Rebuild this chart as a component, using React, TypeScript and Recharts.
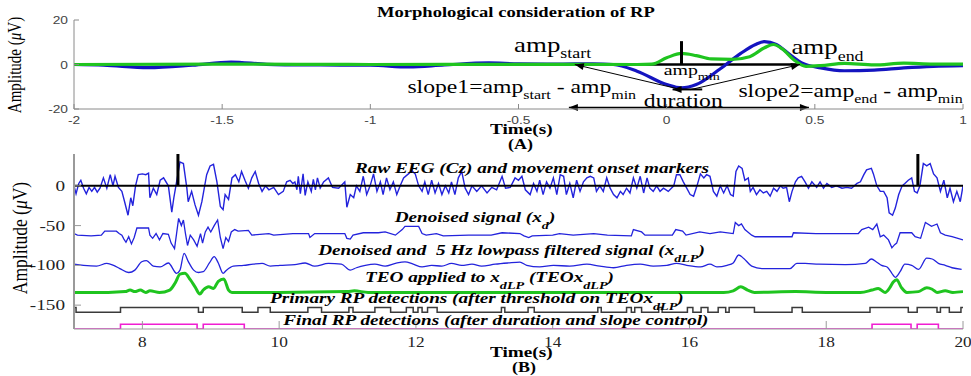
import React from "react";
import { LineChart, Line, XAxis, YAxis, ReferenceLine, ReferenceDot } from "recharts";

type Pt = [number, number];
type Part = [string, boolean]; // [text, subscript?]

// ---------- (A) morphological consideration of RP ----------
const rpTicksX = [-2, -1.5, -1, -0.5, 0, 0.5, 1];
const rpTicksY = [-20, 0, 20];
const rpOnset = 0.05;
const rpBlue: Pt[] = [
  [-2, 0], [-1.9, -0.3], [-1.75, -1.4], [-1.6, -0.3], [-1.47, 1.1], [-1.35, 0.1],
  [-1.2, -0.2], [-1.0, -0.3], [-0.87, -1.1], [-0.75, -0.2], [-0.6, 0.7], [-0.5, 0.3],
  [-0.35, 0.2], [-0.25, 0.3], [-0.18, 0], [-0.1, -3], [0, -9], [0.05, -10.5],
  [0.1, -9], [0.18, -2], [0.25, 5], [0.3, 9], [0.33, 10.3], [0.37, 9], [0.42, 4],
  [0.46, 0.5], [0.52, -1.5], [0.6, -2.8], [0.7, -2.5], [0.8, -1.5], [0.9, -0.8], [1.0, -0.5],
];
const rpGreen: Pt[] = [
  [-2, 0], [-1.5, 0.2], [-1, 0], [-0.5, 0.1], [-0.1, 0], [-0.05, 0.2], [0, 3],
  [0.05, 5], [0.1, 4], [0.15, 2.5], [0.22, 2.3], [0.28, 3.5], [0.33, 7.5], [0.36, 9],
  [0.39, 7], [0.43, 2], [0.47, -0.8], [0.52, -0.5], [0.6, 0.5], [0.7, -0.2],
  [0.8, 0.6], [0.9, 0.2], [1.0, 0.2],
];

// ---------- (B) detection pipeline ----------
const eegTicksX = [8, 10, 12, 14, 16, 18, 20];
const eegTicksY = [-150, -100, -50, 0];
const onsetMarkers = [8.52, 19.34];
const rawEeg: Pt[] = [
  [7.0, 0], [7.03, -10], [7.07, 3], [7.1, 7], [7.14, -3], [7.18, -10], [7.22, -2], [7.26, -7],
  [7.3, -2], [7.34, -8], [7.38, -3], [7.43, 10], [7.48, -3], [7.53, 14], [7.57, 0], [7.6, 12],
  [7.65, -2], [7.7, -7], [7.74, -20], [7.79, -37], [7.83, -15], [7.86, -25], [7.9, 0], [7.94, 14],
  [8.0, 15], [8.05, 14], [8.09, 16], [8.11, -15], [8.16, -3], [8.21, -11], [8.26, 7], [8.31, 10],
  [8.38, 0], [8.43, -33], [8.46, -15], [8.5, 5], [8.55, 30], [8.6, 28], [8.65, -3], [8.67, -20],
  [8.72, -7], [8.77, -24], [8.82, -37], [8.87, -20], [8.94, 14], [8.99, 25], [9.04, 27], [9.09, 5],
  [9.14, -26], [9.18, -30], [9.21, -11], [9.26, -17], [9.31, 10], [9.36, 14], [9.41, 5], [9.45, 18],
  [9.5, 7], [9.55, -3], [9.6, 10], [9.65, 18], [9.7, 3], [9.75, -7], [9.8, 0], [9.85, -5],
  [9.92, -2], [9.99, -11], [10.06, -7], [10.11, 5], [10.16, 7], [10.2, 3], [10.23, 5], [10.26, -5],
  [10.28, 12], [10.31, -10], [10.35, 15], [10.38, -12], [10.42, 5], [10.47, -7], [10.5, 8], [10.53, -5],
  [10.56, 10], [10.6, -3], [10.65, 5], [10.72, 10], [10.78, -2], [10.87, -3], [10.96, 5], [10.99, -27],
  [11.04, -11], [11.09, -15], [11.13, 0], [11.18, -7], [11.23, 12], [11.28, -11], [11.33, 0], [11.38, 15],
  [11.43, -7], [11.48, 5], [11.52, -11], [11.57, 10], [11.62, -5], [11.67, 5], [11.72, -11], [11.77, 0],
  [11.82, 10], [11.89, 15], [11.94, 19], [11.99, 15], [12.04, 0], [12.09, -7], [12.13, 5], [12.18, -11],
  [12.23, 7], [12.28, -9], [12.33, 3], [12.38, -11], [12.43, 0], [12.48, -9], [12.52, 5], [12.57, -11],
  [12.62, 10], [12.67, 18], [12.72, -3], [12.77, -11], [12.82, 0], [12.89, -7], [12.96, 0], [13.04, -9],
  [13.11, -2], [13.18, -5], [13.26, 12], [13.31, -3], [13.38, -2], [13.45, 10], [13.5, 7], [13.55, 12],
  [13.6, -5], [13.67, -11], [13.72, 3], [13.77, -7], [13.81, 7], [13.86, -11], [13.91, 5], [13.96, -3],
  [14.01, 10], [14.06, -11], [14.11, 14], [14.16, 12], [14.2, -11], [14.25, 3], [14.3, -15], [14.35, 7],
  [14.4, -7], [14.45, 5], [14.5, 10], [14.55, 12], [14.6, 10], [14.64, -7], [14.69, 0], [14.74, -7],
  [14.79, 10], [14.84, -3], [14.89, -11], [14.94, -15], [14.99, -7], [15.03, -11], [15.08, -3], [15.13, -9],
  [15.18, 10], [15.23, -3], [15.28, 12], [15.33, -9], [15.38, 10], [15.42, -3], [15.47, -7], [15.52, 0],
  [15.57, -7], [15.62, -3], [15.69, -7], [15.77, 0], [15.81, 14], [15.86, 14], [15.91, 5], [15.96, -3],
  [16.01, -11], [16.06, -13], [16.11, 0], [16.16, 15], [16.21, 10], [16.25, 14], [16.3, 12], [16.35, -7],
  [16.4, -13], [16.45, 0], [16.5, -9], [16.55, 0], [16.6, -11], [16.64, -13], [16.68, 18], [16.72, 25],
  [16.77, 22], [16.81, 7], [16.86, 10], [16.89, -7], [16.93, -2], [16.98, -11], [17.03, -5], [17.08, -9],
  [17.13, -7], [17.18, -13], [17.23, -3], [17.28, -7], [17.33, 0], [17.37, -3], [17.42, -2], [17.46, -20],
  [17.5, -7], [17.55, 5], [17.59, 10], [17.64, 12], [17.69, 5], [17.74, -3], [17.79, 5], [17.86, -2],
  [17.91, 5], [17.96, -3], [18.01, 3], [18.08, -2], [18.15, 0], [18.23, -3], [18.3, -2], [18.37, -3],
  [18.45, 3], [18.5, 5], [18.55, 14], [18.59, 20], [18.66, 22], [18.69, 15], [18.74, 0], [18.79, -7],
  [18.84, -7], [18.89, -15], [18.92, -34], [18.97, -37], [19.01, -28], [19.06, -11], [19.11, 0], [19.15, 3],
  [19.2, 7], [19.25, 10], [19.29, -7], [19.33, -9], [19.37, 0], [19.42, 28], [19.47, 25], [19.52, 28],
  [19.57, 15], [19.62, 10], [19.67, -7], [19.72, 7], [19.77, -15], [19.81, -3], [19.86, -20], [19.91, -7],
  [19.96, -20], [20.0, 0],
];
const denoised: Pt[] = [
  [7.0, -60], [7.05, -62], [7.25, -63], [7.4, -62], [7.45, -57], [7.62, -57], [7.66, -60], [7.7, -62],
  [7.73, -67], [7.76, -71], [7.8, -64], [7.84, -73], [7.88, -65], [7.92, -53], [8.09, -53], [8.11, -62],
  [8.15, -66], [8.2, -60], [8.25, -68], [8.3, -60], [8.38, -61], [8.42, -72], [8.47, -79], [8.5, -60],
  [8.53, -41], [8.57, -50], [8.6, -43], [8.63, -60], [8.66, -75], [8.7, -62], [8.75, -68], [8.8, -76],
  [8.85, -60], [8.88, -72], [8.92, -58], [8.96, -52], [9.0, -58], [9.05, -50], [9.1, -43], [9.14, -65],
  [9.18, -79], [9.22, -65], [9.26, -70], [9.3, -58], [9.35, -55], [9.4, -57], [9.55, -56], [9.6, -62],
  [9.85, -60], [9.92, -62], [10.2, -60], [10.43, -60], [10.45, -65], [10.52, -60], [10.96, -60], [10.99, -66],
  [11.04, -67], [11.08, -62], [11.23, -59], [11.45, -59], [11.55, -58], [11.7, -62], [11.8, -55], [11.84, -51],
  [12.04, -51], [12.09, -60], [12.15, -62], [12.3, -60], [12.4, -63], [12.77, -62], [13.1, -62], [13.26, -59],
  [13.52, -60], [13.58, -63], [13.65, -65], [13.7, -63], [14.0, -62], [14.1, -60], [14.3, -62], [14.6, -60],
  [14.8, -62], [15.15, -63], [15.18, -55], [15.3, -58], [15.35, -62], [15.75, -62], [15.8, -55], [15.9, -57],
  [15.95, -62], [16.15, -58], [16.3, -60], [16.45, -58], [16.64, -60], [16.67, -46], [16.72, -50], [16.76, -48],
  [16.81, -55], [16.91, -62], [16.96, -64], [17.5, -64], [17.52, -59], [17.85, -60], [18.47, -60], [18.52, -55],
  [18.62, -52], [18.68, -55], [18.74, -48], [18.79, -64], [18.84, -62], [18.91, -68], [18.96, -78], [19.0, -74],
  [19.03, -72], [19.08, -59], [19.25, -59], [19.3, -64], [19.38, -66], [19.45, -46], [19.54, -51], [19.62, -48],
  [19.67, -59], [19.74, -62], [19.84, -64], [20.0, -68],
];
const lowpass: Pt[] = [
  [7.0, -98.5], [7.14, -100], [7.33, -101], [7.48, -97.5], [7.58, -100], [7.67, -104], [7.8, -109], [7.89, -106],
  [7.99, -95.5], [8.06, -94], [8.16, -101], [8.26, -102], [8.38, -97], [8.5, -110], [8.55, -106], [8.61, -85],
  [8.67, -95], [8.75, -106], [8.82, -109], [8.89, -108], [8.98, -97], [9.05, -89], [9.11, -97], [9.18, -110],
  [9.23, -106], [9.33, -101], [9.48, -100], [9.62, -98.5], [9.75, -97.5], [9.87, -101], [10.01, -100], [10.23, -99],
  [10.38, -97], [10.52, -101], [10.72, -97.5], [10.91, -98.5], [11.04, -106], [11.13, -103], [11.26, -100], [11.4, -98.5],
  [11.55, -101], [11.7, -97.5], [11.84, -95.5], [11.96, -98.5], [12.09, -102], [12.23, -100], [12.38, -101], [12.52, -97.5],
  [12.67, -100], [12.82, -98.5], [12.96, -101], [13.16, -98.5], [13.35, -97], [13.52, -96], [13.62, -100], [13.81, -102],
  [14.01, -100], [14.25, -101], [14.5, -98.5], [14.69, -101], [14.89, -103], [15.08, -100], [15.28, -98.5], [15.47, -101],
  [15.67, -100], [15.81, -97.5], [15.96, -100], [16.16, -102], [16.3, -98.5], [16.4, -102], [16.55, -100], [16.64, -97],
  [16.72, -87], [16.79, -91], [16.91, -101], [17.06, -104], [17.3, -104], [17.47, -104], [17.57, -97.5], [17.69, -97.5],
  [17.89, -98.5], [18.28, -99], [18.57, -97.5], [18.66, -92], [18.74, -96], [18.81, -100], [18.89, -102], [18.96, -110],
  [19.01, -115], [19.08, -108], [19.15, -98.5], [19.25, -100], [19.35, -105], [19.47, -91], [19.55, -92], [19.64, -97.5],
  [19.74, -100], [19.84, -103], [19.98, -105],
];
const teo: Pt[] = [
  [7.0, -134], [7.5, -134], [7.75, -133], [7.82, -131], [7.89, -133], [7.97, -131], [8.05, -134], [8.11, -132],
  [8.25, -134], [8.4, -131], [8.48, -122], [8.55, -111], [8.62, -110], [8.7, -118], [8.77, -127], [8.84, -136],
  [8.89, -131], [8.97, -127], [9.04, -129], [9.11, -120], [9.19, -117], [9.26, -131], [9.31, -134], [10.0, -134],
  [11.0, -133], [11.1, -132], [11.3, -134], [13.0, -134], [15.0, -134], [16.5, -134], [16.64, -132], [16.75, -127],
  [16.85, -131], [16.95, -134], [17.55, -133], [18.0, -134], [18.5, -134], [18.67, -131], [18.76, -129], [18.86, -134],
  [18.93, -128], [18.98, -121], [19.03, -118], [19.1, -128], [19.18, -134], [19.35, -133], [19.47, -128], [19.55, -130],
  [19.62, -134], [19.74, -132], [19.85, -134], [20.0, -133],
];
// detection runs: [start, end] in s
const primaryRuns: Pt[] = [
  [7.0, 7.03], [7.68, 8.82], [8.89, 9.46], [9.69, 9.87], [10.42, 10.62], [11.02, 11.08], [11.4, 11.63],
  [11.86, 11.96], [12.03, 12.09], [12.17, 12.31], [13.25, 13.3], [13.64, 13.73], [14.66, 14.71], [15.08, 15.15],
  [15.2, 15.3], [15.55, 15.6], [15.97, 16.05], [16.17, 16.27], [16.42, 16.53], [16.58, 16.95], [17.5, 17.65],
  [18.64, 19.2], [19.33, 19.62], [19.67, 19.8], [19.97, 20.0],
];
const finalRuns: Pt[] = [[7.68, 8.8], [8.89, 9.49], [18.67, 19.24], [19.33, 19.64]];
const primaryLevels: Pt = [-159, -153];
const finalLevels: Pt = [-180, -174];

const rows = (pts: Pt[]) => pts.map(([t, v]) => ({ t, v }));
const stepRows = (runs: Pt[], [lo, hi]: Pt, t0: number, t1: number) => {
  const out = [{ t: t0, v: lo }];
  runs.forEach(([a, b]) => {
    out.push({ t: a, v: hi });
    out.push({ t: b, v: lo });
  });
  const last = out[out.length - 1];
  if (last.t < t1) out.push({ t: t1, v: last.v });
  else last.v = hi;
  return out;
};

const SX = 1.28;
const SERIF = "'Liberation Serif', 'Times New Roman', serif";
const SANS = "'Liberation Sans', Arial, sans-serif";
const BLUE = "#2323dc";
const GREEN = "#1fc41f";

function Note({ cx, cy, parts, size, sub, drop, bold, italic }: any) {
  let off = 0;
  return (
    <g transform={`translate(${cx},${cy}) scale(${SX},1)`}>
      <text
        x={0}
        y={0}
        fontFamily={SERIF}
        fontSize={size}
        fontWeight={bold ? 700 : 400}
        fontStyle={italic ? "italic" : "normal"}
        fill="#000"
        style={{ whiteSpace: "pre" }}
      >
        {parts.map(([s, isSub]: Part, i: number) => {
          const target = isSub ? drop : 0;
          const dy = target - off;
          off = target;
          return (
            <tspan key={i} dy={dy} fontSize={isSub ? sub : size}>
              {s}
            </tspan>
          );
        })}
      </text>
    </g>
  );
}

const note = (x: number, y: number, parts: Part[], size: number, sub: number, drop: number, bold = false, italic = false) => (
  <ReferenceDot
    key={`${x}-${y}`}
    x={x}
    y={y}
    r={0}
    shape={(p: any) => <Note cx={p.cx} cy={p.cy} parts={parts} size={size} sub={sub} drop={drop} bold={bold} italic={italic} />}
  />
);

function arrow(width: number, heads: number) {
  return (p: any) => {
    const { x1, y1, x2, y2 } = p;
    const ang = Math.atan2(y2 - y1, x2 - x1);
    const head = (x: number, y: number, a: number) => {
      const L = 9;
      const W = 3.5;
      const bx = x - L * Math.cos(a);
      const by = y - L * Math.sin(a);
      const nx = -Math.sin(a) * W;
      const ny = Math.cos(a) * W;
      return `${x},${y} ${bx + nx},${by + ny} ${bx - nx},${by - ny}`;
    };
    return (
      <g>
        <line x1={x1} y1={y1} x2={x2} y2={y2} stroke="#000" strokeWidth={width} />
        {heads >= 1 && <polygon points={head(x2, y2, ang)} fill="#000" />}
        {heads >= 2 && <polygon points={head(x1, y1, ang + Math.PI)} fill="#000" />}
      </g>
    );
  };
}

function tick(font: string, size: number, color: string, dy: number, sx: number) {
  return (p: any) => (
    <g transform={`translate(${p.x},${p.y})`}>
      <text transform={`scale(${sx},1)`} textAnchor={p.textAnchor} dy={dy} fontFamily={font} fontSize={size} fill={color}>
        {p.payload.value}
      </text>
    </g>
  );
}

const txt = (left: number, top: number, size: number, content: React.ReactNode, bold = true) => (
  <div
    style={{
      position: "absolute",
      left,
      top,
      fontFamily: SERIF,
      fontSize: size,
      lineHeight: `${size}px`,
      fontWeight: bold ? 700 : 400,
      whiteSpace: "nowrap",
      transform: `scaleX(${SX})`,
      transformOrigin: "left top",
      color: "#000",
    }}
  >
    {content}
  </div>
);

const vtxt = (cx: number, cy: number, size: number) => (
  <div style={{ position: "absolute", left: cx, top: cy, width: 0, height: 0 }}>
    <div
      style={{
        position: "absolute",
        left: 0,
        top: 0,
        fontFamily: SERIF,
        fontSize: size,
        lineHeight: `${size}px`,
        whiteSpace: "nowrap",
        transform: "translate(-50%, -50%) rotate(-90deg) scaleY(1.2)",
        color: "#000",
      }}
    >
      Amplitude (<i>μ</i>V)
    </div>
  </div>
);

export default function App() {
  const AX_A = "#8a8a8a";
  const AX_B = "#9a9a9a";
  return (
    <div style={{ position: "absolute", left: 0, top: 0, width: 971, height: 376, background: "#fff", overflow: "hidden" }}>
      <div style={{ position: "absolute", left: 0, top: 0 }}>
        <LineChart width={971} height={130} margin={{ top: 20, right: 8, bottom: 0, left: 0 }}>
          <XAxis
            type="number"
            dataKey="t"
            domain={[-2, 1]}
            ticks={rpTicksX}
            interval={0}
            height={21}
            tickSize={-5}
            tickMargin={12}
            axisLine={{ stroke: AX_A }}
            tickLine={{ stroke: AX_A }}
            tick={tick(SANS, 11, "#444", 8, 1.25)}
            allowDataOverflow
          />
          <YAxis
            type="number"
            domain={[-20, 20]}
            ticks={rpTicksY}
            interval={0}
            width={74}
            tickSize={-5}
            tickMargin={11}
            axisLine={{ stroke: AX_A }}
            tickLine={{ stroke: AX_A }}
            tick={tick(SANS, 11, "#444", 4, 1.25)}
            allowDataOverflow
          />
          <ReferenceLine segment={[{ x: -0.3, y: 0 }, { x: 0.44, y: 0 }]} stroke="#000" strokeWidth={2.5} />
          <Line data={rows(rpBlue)} dataKey="v" type="monotone" stroke="#1414c0" strokeWidth={3.2} dot={false} isAnimationActive={false} />
          <Line data={rows(rpGreen)} dataKey="v" type="monotone" stroke={GREEN} strokeWidth={3.2} dot={false} isAnimationActive={false} />
          <ReferenceLine segment={[{ x: rpOnset, y: 0 }, { x: rpOnset, y: 10.5 }]} stroke="#000" strokeWidth={3} />
          <ReferenceLine segment={[{ x: 0.05, y: -11.3 }, { x: -0.31, y: 0 }]} shape={arrow(1, 1)} />
          <ReferenceLine segment={[{ x: 0.08, y: -11.3 }, { x: 0.45, y: 0 }]} shape={arrow(1, 1)} />
          <ReferenceLine segment={[{ x: 0.12, y: -11.2 }, { x: 0.02, y: -11.2 }]} shape={arrow(2, 1)} />
          <ReferenceLine segment={[{ x: -0.33, y: -19.3 }, { x: 0.48, y: -19.3 }]} shape={arrow(1.5, 2)} />
          {note(-0.515, 5.4, [["amp", false], ["start", true]], 21, 14, 6)}
          {note(-0.01, -4.9, [["amp", false], ["min", true]], 15.5, 11, 5)}
          {note(0.421, 4.5, [["amp", false], ["end", true]], 21, 14, 6)}
          {note(-0.875, -12.6, [["slope1=amp", false], ["start", true], [" - amp", false], ["min", true]], 18.5, 12.5, 6)}
          {note(0.242, -14.4, [["slope2=amp", false], ["end", true], [" - amp", false], ["min", true]], 18.5, 12.5, 6)}
          {note(-0.077, -18.9, [["duration", false]], 18.5, 12, 0)}
        </LineChart>
      </div>

      <div style={{ position: "absolute", left: 0, top: 140 }}>
        <LineChart width={971} height={236} margin={{ top: 14, right: 8, bottom: 0, left: 0 }}>
          <XAxis
            type="number"
            dataKey="t"
            domain={[7, 20]}
            ticks={eegTicksX}
            interval={0}
            height={47}
            tickSize={-8}
            tickMargin={15}
            axisLine={{ stroke: AX_B }}
            tickLine={{ stroke: AX_B }}
            tick={tick(SERIF, 15, "#222", 11, 1.15)}
            allowDataOverflow
          />
          <YAxis
            type="number"
            domain={[-180, 40]}
            ticks={eegTicksY}
            interval={0}
            width={74}
            tickSize={-7}
            tickMargin={16}
            axisLine={{ stroke: AX_B, strokeWidth: 2 }}
            tickLine={{ stroke: AX_B }}
            tick={tick(SERIF, 15, "#222", 5, 1.28)}
            allowDataOverflow
          />
          <Line data={rows(rawEeg)} dataKey="v" type="linear" stroke={BLUE} strokeWidth={1.4} dot={false} isAnimationActive={false} />
          <ReferenceLine y={0} stroke="#000" strokeWidth={2} />
          {onsetMarkers.map((t) => (
            <ReferenceLine key={t} segment={[{ x: t, y: 0 }, { x: t, y: 40 }]} stroke="#000" strokeWidth={3} />
          ))}
          <Line data={rows(denoised)} dataKey="v" type="linear" stroke={BLUE} strokeWidth={1.3} dot={false} isAnimationActive={false} />
          <Line data={rows(lowpass)} dataKey="v" type="monotone" stroke={BLUE} strokeWidth={1.3} dot={false} isAnimationActive={false} />
          <Line data={rows(teo)} dataKey="v" type="monotone" stroke={GREEN} strokeWidth={3} dot={false} isAnimationActive={false} />
          <Line data={stepRows(primaryRuns, primaryLevels, 7, 20)} dataKey="v" type="stepAfter" stroke="#3a3a3a" strokeWidth={1.5} dot={false} isAnimationActive={false} />
          <Line data={stepRows(finalRuns, finalLevels, 7, 20)} dataKey="v" type="stepAfter" stroke="#f01ed2" strokeWidth={1.6} dot={false} isAnimationActive={false} />
          {note(11.11, 16, [["Raw EEG (Cz) and movement onset markers", false]], 15, 11, 0, true, true)}
          {note(11.69, -45, [["Denoised signal (x", false], ["d", true], [")", false]], 15, 11, 7, true, true)}
          {note(10.57, -87, [["Denoised and  5 Hz lowpass filtered signal (x", false], ["dLP", true], [")", false]], 15, 11, 7, true, true)}
          {note(11.255, -120.7, [["TEO applied to x", false], ["dLP", true], [" (TEOx", false], ["dLP", true], [")", false]], 15, 11, 7, true, true)}
          {note(9.866, -147, [["Primary RP detections (after threshold on TEOx", false], ["dLP", true], [")", false]], 15, 11, 7, true, true)}
          {note(10.06, -175.3, [["Final RP detections (after duration and slope control)", false]], 15, 11, 0, true, true)}
        </LineChart>
      </div>

      {txt(377, 5, 14.5, "Morphological consideration of RP")}
      {txt(490, 122, 15, "Time(s)")}
      {txt(508, 138, 14, "(A)")}
      {txt(490, 345, 15, "Time(s)")}
      {txt(512, 361, 14, "(B)")}
      {vtxt(16, 65, 15)}
      {vtxt(21, 238, 17.5)}
    </div>
  );
}
